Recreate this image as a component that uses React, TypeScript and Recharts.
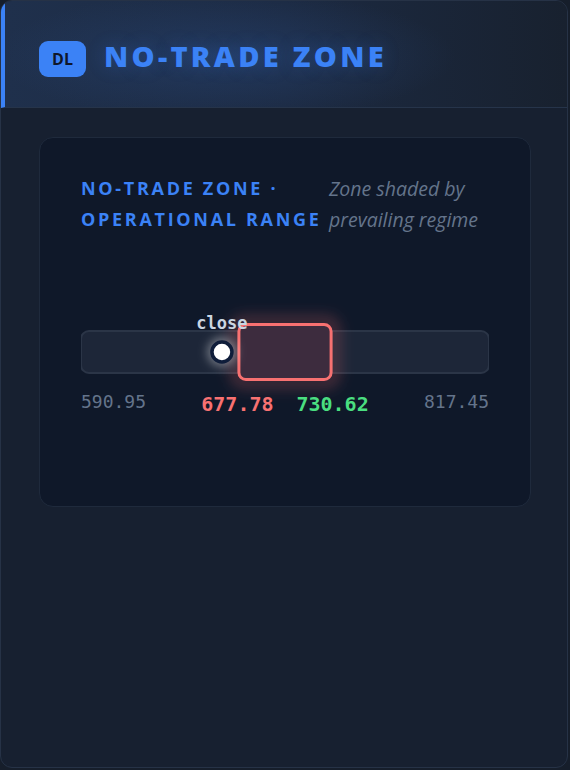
import React from 'react';
import { ComposedChart, XAxis, YAxis, Bar, ReferenceDot } from 'recharts';

// operational range, no-trade zone and last close
const rangeBounds = [590.95, 817.45];
const zoneBounds = [677.78, 730.62];
const closeValue = 669.2;
const closeLabel = 'close';
const tickValues = [590.95, 677.78, 730.62, 817.45];
const tickColors = ['#64748b', '#f87171', '#4ade80', '#64748b'];

const rows = [{ name: 'range', track: rangeBounds, zone: zoneBounds }];

const MONO = '"DejaVu Sans Mono", "Liberation Mono", monospace';
const SANS = '"Open Sans", "Noto Sans", sans-serif';

const RangeTick = (props: any) => {
  const { x, y, payload } = props;
  const idx = tickValues.indexOf(payload.value);
  const anchor = idx === 0 ? 'start' : idx === tickValues.length - 1 ? 'end' : 'middle';
  const strong = idx === 1 || idx === 2;
  return (
    <text
      x={x}
      y={y}
      dy={strong ? 22 : 19}
      textAnchor={anchor}
      fill={tickColors[idx]}
      fontFamily={MONO}
      fontSize={strong ? 20 : 18}
      fontWeight={strong ? 700 : 400}
    >
      {payload.value.toFixed(2)}
    </text>
  );
};

const TrackShape = (props: any) => {
  const { x, y, width, height } = props;
  return (
    <rect x={x} y={y + 8} width={width} height={height - 16} rx={8} ry={8}
      fill="#1d2638" stroke="#2b3547" strokeWidth={2} />
  );
};

const ZoneShape = (props: any) => {
  const { x, y, width, height } = props;
  return (
    <g>
      <defs>
        <filter id="zoneGlow" x="-50%" y="-50%" width="200%" height="200%">
          <feGaussianBlur stdDeviation="7" />
        </filter>
      </defs>
      <rect x={x - 2} y={y - 2} width={width + 4} height={height + 4} rx={8}
        fill="none" stroke="rgba(248,113,113,0.28)" strokeWidth={10} filter="url(#zoneGlow)" />
      <rect x={x + 1.5} y={y + 1.5} width={width - 3} height={height - 3} rx={7} ry={7}
        fill="#3d2c3e" stroke="#f87171" strokeWidth={3} />
    </g>
  );
};

const CloseDot = (props: any) => {
  const { cx, cy } = props;
  return (
    <g>
      <defs>
        <filter id="dotGlow" x="-100%" y="-100%" width="300%" height="300%">
          <feGaussianBlur stdDeviation="5" />
        </filter>
      </defs>
      <circle cx={cx} cy={cy} r={15} fill="rgba(255,255,255,0.35)" filter="url(#dotGlow)" />
      <circle cx={cx} cy={cy} r={10} fill="#ffffff" stroke="#0f1d3a" strokeWidth={3.5} />
      <text x={cx} y={cy - 23} textAnchor="middle" fill="#cbd5e1"
        fontFamily={MONO} fontSize={17} fontWeight={700}>
        {closeLabel}
      </text>
    </g>
  );
};

export default function App() {
  return (
    <div style={{ position: 'absolute', left: 0, top: 0, width: 570, height: 770, background: '#161e2b' }}>
      <div style={{
        position: 'absolute', left: 0, top: 0, width: 566, height: 766,
        border: '1px solid #263246', borderRadius: 12, overflow: 'hidden',
        background: '#172030',
      }}>
        {/* header */}
        <div style={{
          position: 'absolute', left: 0, top: 0, width: 566, height: 107,
          borderLeft: '4px solid #3b82f6', boxSizing: 'border-box',
          borderBottom: '1px solid #26344a',
          background: 'radial-gradient(ellipse 230px 65px at 220px 55px, rgba(40,70,120,0.5), rgba(0,0,0,0) 100%), linear-gradient(90deg, #1f304c 0%, #1c2a42 50%, #18212f 100%)',
        }}>
          <div style={{
            position: 'absolute', left: 34, top: 40, width: 47, height: 36, borderRadius: 9,
            background: '#3b82f6', color: '#0f172a', fontFamily: SANS, fontWeight: 700,
            fontSize: 16, display: 'flex', alignItems: 'center', justifyContent: 'center',
          }}>DL</div>
          <div style={{
            position: 'absolute', left: 99, top: 35, color: '#3b82f6', fontFamily: SANS,
            fontWeight: 800, fontSize: 29, letterSpacing: 3.3, lineHeight: '40px',
            textShadow: '0 0 18px rgba(59,130,246,0.25)',
          }}>NO-TRADE ZONE</div>
        </div>

        {/* panel */}
        <div style={{
          position: 'absolute', left: 38, top: 136, width: 492, height: 370,
          boxSizing: 'border-box', border: '1.5px solid #1f2a3c', borderRadius: 14,
          background: '#0f1829',
        }}>
          <div style={{
            position: 'absolute', left: 41, top: 35, color: '#3b82f6', fontFamily: SANS,
            fontWeight: 700, fontSize: 18, letterSpacing: 2.7, lineHeight: '31px',
          }}>NO-TRADE ZONE ·<br />OPERATIONAL RANGE</div>
          <div style={{
            position: 'absolute', left: 289, top: 35, color: '#64748b', fontFamily: SANS,
            fontStyle: 'italic', fontSize: 19.5, lineHeight: '31px',
          }}>Zone shaded by<br />prevailing regime</div>
        </div>

        <div style={{ position: 'absolute', left: 38, top: 302 }}>
          <ComposedChart width={490} height={130} layout="vertical" data={rows}
            margin={{ top: 20, right: 40, bottom: 0, left: 42 }}
            barCategoryGap={0} barGap={0}>
            <XAxis type="number" domain={rangeBounds} ticks={tickValues} interval={0}
              axisLine={false} tickLine={false} tick={<RangeTick />} height={52} allowDataOverflow />
            <YAxis yAxisId="track" type="category" dataKey="name" hide />
            <YAxis yAxisId="zone" type="category" dataKey="name" hide />
            <Bar yAxisId="track" dataKey="track" shape={<TrackShape />} isAnimationActive={false} />
            <Bar yAxisId="zone" dataKey="zone" shape={<ZoneShape />} isAnimationActive={false} />
            <ReferenceDot yAxisId="zone" x={closeValue} y="range" shape={<CloseDot />} ifOverflow="visible" />
          </ComposedChart>
        </div>
      </div>
    </div>
  );
}
